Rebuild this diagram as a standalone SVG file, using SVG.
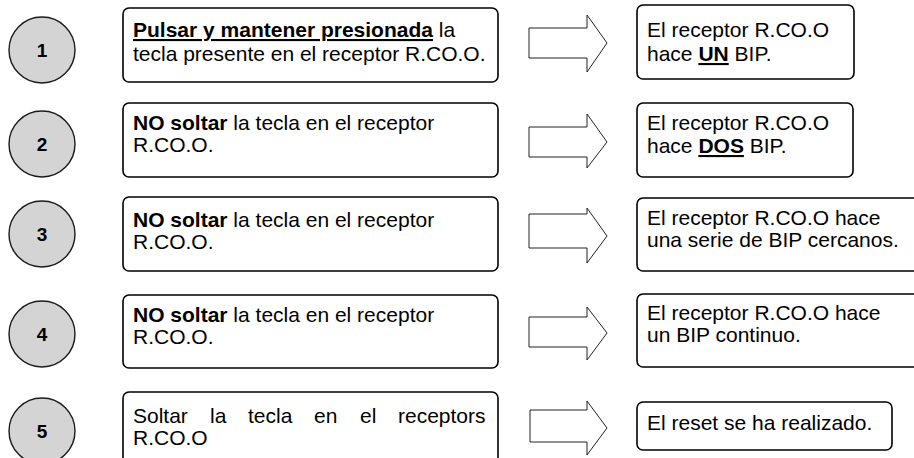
<svg xmlns="http://www.w3.org/2000/svg" width="914" height="458" viewBox="0 0 914 458">
<style>
.num{fill:#d4d4d4;stroke:#1a1a1a;stroke-width:1.4}
.numt{font-family:"Liberation Sans",Arial,sans-serif;font-size:19px;font-weight:bold;fill:#000;text-anchor:middle}
.box{fill:#fff;stroke:#000;stroke-width:1.6}
.t{font-family:"Liberation Sans",Arial,sans-serif;font-size:21px;fill:#000}
.b{font-weight:bold}
.u{text-decoration:underline}
.arr{fill:#fff;stroke:#222;stroke-width:1}
</style>
<rect width="914" height="458" fill="#fff"/>
<g id="step1">
<circle class="num" cx="42" cy="50" r="33"/>
<text class="numt" x="42" y="57">1</text>
<rect class="box" x="123" y="8" width="375" height="74" rx="6"/>
<text class="t" x="133" y="37"><tspan class="b u">Pulsar y mantener presionada</tspan> la</text>
<text class="t" x="133" y="61">tecla presente en el receptor R.CO.O.</text>
</g>
<g id="step2">
<circle class="num" cx="42" cy="144" r="33"/>
<text class="numt" x="42" y="151">2</text>
<rect class="box" x="123" y="103" width="375" height="74" rx="6"/>
<text class="t" x="133" y="130"><tspan class="b">NO soltar</tspan> la tecla en el receptor</text>
<text class="t" x="133" y="152">R.CO.O.</text>
</g>
<g id="step3">
<circle class="num" cx="42" cy="234" r="33"/>
<text class="numt" x="42" y="241">3</text>
<rect class="box" x="123" y="197" width="375" height="74" rx="6"/>
<text class="t" x="133" y="227"><tspan class="b">NO soltar</tspan> la tecla en el receptor</text>
<text class="t" x="133" y="249">R.CO.O.</text>
</g>
<g id="step4">
<circle class="num" cx="42" cy="334" r="33"/>
<text class="numt" x="42" y="341">4</text>
<rect class="box" x="123" y="295" width="375" height="73" rx="6"/>
<text class="t" x="133" y="322"><tspan class="b">NO soltar</tspan> la tecla en el receptor</text>
<text class="t" x="133" y="344">R.CO.O.</text>
</g>
<g id="step5">
<circle class="num" cx="42" cy="431" r="33"/>
<text class="numt" x="42" y="438">5</text>
<rect class="box" x="123" y="392" width="375" height="80" rx="6"/>
<text class="t" y="423"><tspan x="133">Soltar</tspan><tspan x="210">la</tspan><tspan x="248">tecla</tspan><tspan x="314">en</tspan><tspan x="360">el</tspan><tspan x="398">receptors</tspan></text>
<text class="t" x="133" y="445">R.CO.O</text>
</g>
<g id="result1">
<rect class="box" x="637" y="5" width="217" height="74" rx="6"/>
<text class="t" x="647" y="37">El receptor R.CO.O</text>
<text class="t" x="647" y="61">hace <tspan class="b u">UN</tspan> BIP.</text>
</g>
<g id="result2">
<rect class="box" x="637" y="103" width="216" height="74" rx="6"/>
<text class="t" x="647" y="130">El receptor R.CO.O</text>
<text class="t" x="647" y="153">hace <tspan class="b u">DOS</tspan> BIP.</text>
</g>
<g id="result3">
<rect class="box" x="637" y="198" width="290" height="73" rx="6"/>
<text class="t" x="647" y="225">El receptor R.CO.O hace</text>
<text class="t" x="647" y="247">una serie de BIP cercanos.</text>
</g>
<g id="result4">
<rect class="box" x="637" y="294" width="290" height="73" rx="6"/>
<text class="t" x="647" y="320">El receptor R.CO.O hace</text>
<text class="t" x="647" y="342">un BIP continuo.</text>
</g>
<g id="result5">
<rect class="box" x="637" y="402" width="255" height="48" rx="6"/>
<text class="t" x="647" y="430">El reset se ha realizado.</text>
</g>
<g id="connectors">
<polygon class="arr" points="529,28 587,28 587,15 607,43 587,72 587,58 529,58"/>
<polygon class="arr" points="529,127 587,127 587,114 607,142 587,168 587,157 529,157"/>
<polygon class="arr" points="529,214 587,214 587,208 607,236 587,263 587,248 529,248"/>
<polygon class="arr" points="529,317 587,317 587,307 607,333 587,360 587,347 529,347"/>
<polygon class="arr" points="530,410 587,410 587,401 607,428 587,455 587,442 530,442"/>
</g>
</svg>
